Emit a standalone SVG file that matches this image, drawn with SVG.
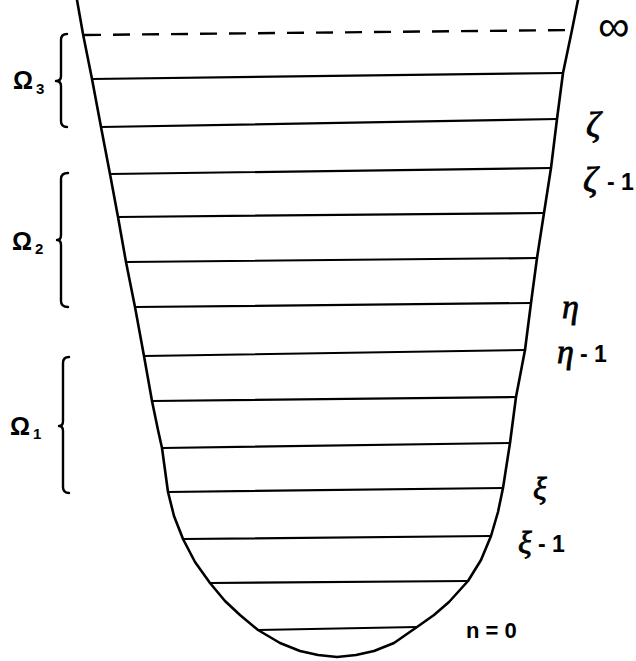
<svg xmlns="http://www.w3.org/2000/svg" width="636" height="661" viewBox="0 0 636 661">
<style>
.well{fill:none;stroke:#000;stroke-width:2.6;stroke-linejoin:round;stroke-linecap:round}
.lvl{stroke:#000;stroke-width:2.2;stroke-linecap:round}
.dash{stroke:#000;stroke-width:2.4;stroke-dasharray:17 12}
.brace{fill:none;stroke:#000;stroke-width:2.4;stroke-linecap:round;stroke-linejoin:round}
.t{font-family:"Liberation Sans","DejaVu Sans",sans-serif;fill:#000}
.b{font-weight:bold}
.g{font-family:"Liberation Serif","DejaVu Serif",serif;font-style:italic;fill:#000;stroke:#000;stroke-width:0.8}
</style>
<rect width="636" height="661" fill="#fff"/>
<g id="well">
<polyline class="well" points="77,0 83,34 92,79 101,127 110,174 118,217 126,262 135,307 144,356 152,401 158,430 162,448 165,470 168,492 174,516 183,539 195,562 210,583 225,601 240,615 258,630 280,643 300,651 318,655 337,657 356,655 374,651 394,643 417,627 434,615 449,602 468,581 481,560 491,536 498,512 503,488 510,443 516,397 525,350 531,303 537,258 544,213 551,168 557,119 563,73 572,30 578,0"/>
</g>
<g id="levels">
<line class="dash" x1="84" y1="35" x2="573" y2="30"/>
<line class="lvl" x1="92" y1="79" x2="563" y2="73"/>
<line class="lvl" x1="101" y1="127" x2="557" y2="119"/>
<line class="lvl" x1="110" y1="174" x2="551" y2="168"/>
<line class="lvl" x1="118" y1="217" x2="544" y2="213"/>
<line class="lvl" x1="126" y1="262" x2="537" y2="258"/>
<line class="lvl" x1="135" y1="307" x2="531" y2="303"/>
<line class="lvl" x1="144" y1="356" x2="525" y2="350"/>
<line class="lvl" x1="152" y1="401" x2="516" y2="397"/>
<line class="lvl" x1="162" y1="448" x2="510" y2="443"/>
<line class="lvl" x1="168" y1="492" x2="503" y2="488"/>
<line class="lvl" x1="183" y1="539" x2="491" y2="536"/>
<line class="lvl" x1="210" y1="583" x2="468" y2="581"/>
<line class="lvl" x1="258" y1="630" x2="417" y2="627"/>
</g>
<g id="omega3">
<path class="brace" d="M67,34 Q61,34 61,40 L61,76 Q61,81 56,81 Q61,81 61,86 L61,121 Q61,127 67,127"/>
<text class="t b" x="13" y="89" font-size="25">Ω</text><text class="t b" x="36" y="94" font-size="15">3</text>
</g>
<g id="omega2">
<path class="brace" d="M68,173 Q61,173 61,179 L61,235 Q61,240 57,240 Q61,240 61,245 L61,301 Q61,307 68,307"/>
<text class="t b" x="12" y="250" font-size="25">Ω</text><text class="t b" x="35" y="254" font-size="15">2</text>
</g>
<g id="omega1">
<path class="brace" d="M69,357 Q63,357 63,363 L63,421 Q63,426 59,426 Q63,426 63,431 L63,487 Q63,493 69,493"/>
<text class="t b" x="10" y="435" font-size="25">Ω</text><text class="t b" x="33" y="439" font-size="15">1</text>
</g>
<g id="labels">
<text class="t" x="598" y="41" font-size="44">∞</text>
<text class="g" x="586" y="137" font-size="36">ζ</text>
<text class="g" x="583" y="192" font-size="36">ζ</text><text class="t b" x="607" y="190" font-size="23">- 1</text>
<text class="g" x="562" y="318" font-size="34">η</text>
<text class="g" x="557" y="363" font-size="34">η</text><text class="t b" x="580" y="362" font-size="23">- 1</text>
<text class="g" x="533" y="499" font-size="32">ξ</text>
<text class="g" x="518" y="553" font-size="32">ξ</text><text class="t b" x="538" y="552" font-size="23">- 1</text>
<text class="t b" x="466" y="638" font-size="22">n = 0</text>
</g>
</svg>
